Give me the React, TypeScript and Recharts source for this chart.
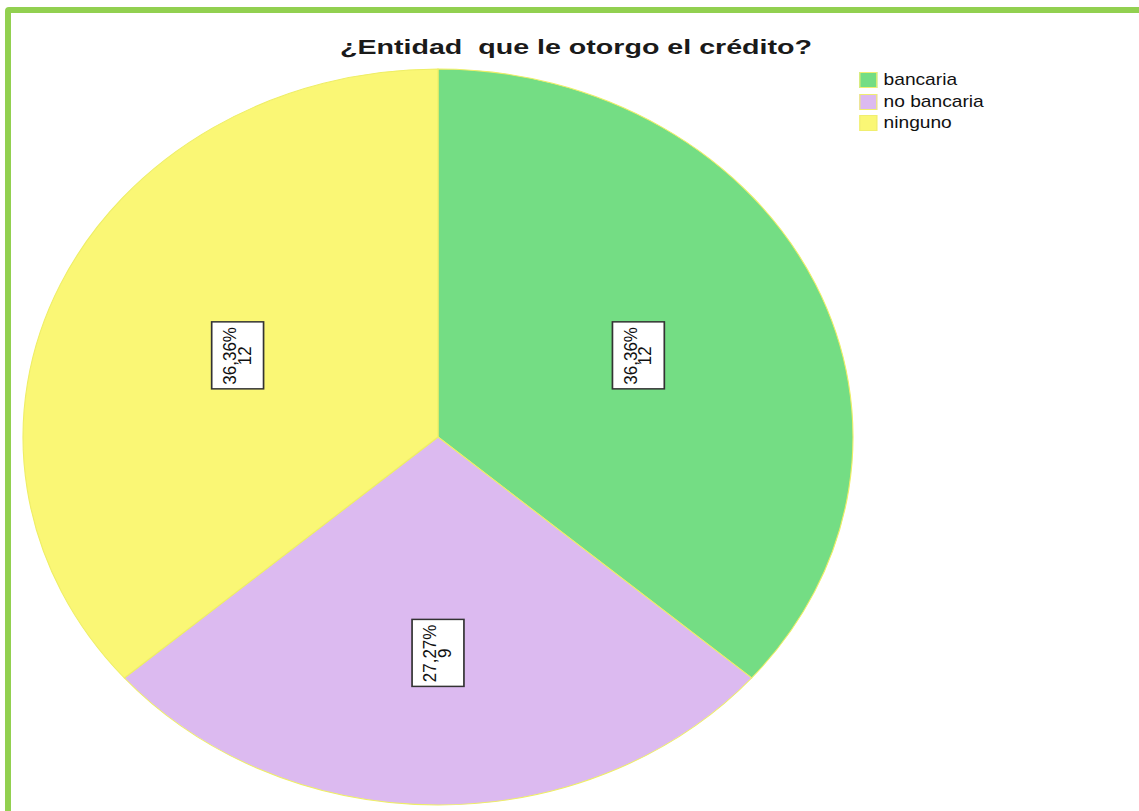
import React from 'react';
import { PieChart, Pie, Cell, Legend } from 'recharts';

const categories = ['bancaria', 'no bancaria', 'ninguno'];
const counts = [12, 9, 12];
const sliceColors = ['#74dd84', '#dcbaf0', '#faf775'];

const data = categories.map((name, i) => ({ name, value: counts[i] }));
const total = counts.reduce((a, b) => a + b, 0);

// the source picture is stretched horizontally, so the whole chart is drawn round and scaled
const SX = 1.1277;
const CHART_W = 1010;
const CHART_H = 811;
const RAD = Math.PI / 180;

const renderLabel = (props: any) => {
  const { cx, cy, midAngle, outerRadius, value } = props;
  const theta = (value / total) * 2 * Math.PI;
  // centroid of the sector
  const r = (outerRadius * 4 * Math.sin(theta / 2)) / (3 * theta);
  const x = cx + r * Math.cos(-midAngle * RAD);
  const y = cy + r * Math.sin(-midAngle * RAD);
  const pct = ((value / total) * 100).toFixed(2).replace('.', ',') + '%';
  return (
    <g transform={`translate(${x},${y})`}>
      <rect x={-23} y={-34} width={46} height={67} fill="#ffffff" stroke="#333333" strokeWidth={1.5} />
      <text
        transform="rotate(-90)"
        textAnchor="middle"
        fontFamily="'Liberation Sans', Arial, sans-serif"
        fontSize={17}
        fill="#111111"
      >
        <tspan x={0} y={-1.5}>{pct}</tspan>
        <tspan x={0} y={11.5}>{value}</tspan>
      </text>
    </g>
  );
};

const renderLegend = () => (
  <div style={{ fontFamily: "'Liberation Sans', Arial, sans-serif", fontSize: 17, color: '#111' }}>
    {categories.map((c, i) => (
      <div key={c} style={{ display: 'flex', alignItems: 'center', height: 21.7 }}>
        <div
          style={{
            width: 16,
            height: 16,
            boxSizing: 'border-box',
            background: sliceColors[i],
            border: '1px solid #f0ee70',
            marginRight: 6,
          }}
        />
        <span>{c}</span>
      </div>
    ))}
  </div>
);

export default function App() {
  return (
    <div
      style={{
        position: 'absolute',
        left: 0,
        top: 0,
        width: 1139,
        height: 811,
        overflow: 'hidden',
        background: '#ffffff',
      }}
    >
      <div
        style={{
          position: 'absolute',
          left: 5,
          top: 7,
          width: 1200,
          height: 900,
          border: '6px solid #92d050',
          borderRadius: 4,
        }}
      />
      <div
        style={{
          position: 'absolute',
          left: 0,
          top: 0,
          width: CHART_W,
          height: CHART_H,
          transform: `scaleX(${SX})`,
          transformOrigin: '0 0',
        }}
      >
        <svg width={CHART_W} height={80} style={{ position: 'absolute', left: 0, top: 0 }}>
          <text
            x={510.8}
            y={54}
            textAnchor="middle"
            fontFamily="'Liberation Sans', Arial, sans-serif"
            fontWeight="bold"
            fontSize={20}
            fill="#1a1a1a"
            textLength={418.6}
            lengthAdjust="spacingAndGlyphs"
            style={{ whiteSpace: 'pre' }}
          >
            ¿Entidad  que le otorgo el crédito?
          </text>
        </svg>
        <PieChart width={CHART_W} height={CHART_H} margin={{ top: 0, right: 0, bottom: 0, left: 0 }}>
          <Pie
            data={data}
            dataKey="value"
            nameKey="name"
            cx={388.4}
            cy={437}
            outerRadius={368}
            startAngle={90}
            endAngle={-270}
            stroke="#eeee66"
            strokeWidth={1}
            label={renderLabel}
            labelLine={false}
            isAnimationActive={false}
          >
            {data.map((d, i) => (
              <Cell key={d.name} fill={sliceColors[i]} />
            ))}
          </Pie>
          <Legend
            content={renderLegend}
            wrapperStyle={{ position: 'absolute', left: 761.5, top: 69, width: 'auto' }}
          />
        </PieChart>
      </div>
    </div>
  );
}
